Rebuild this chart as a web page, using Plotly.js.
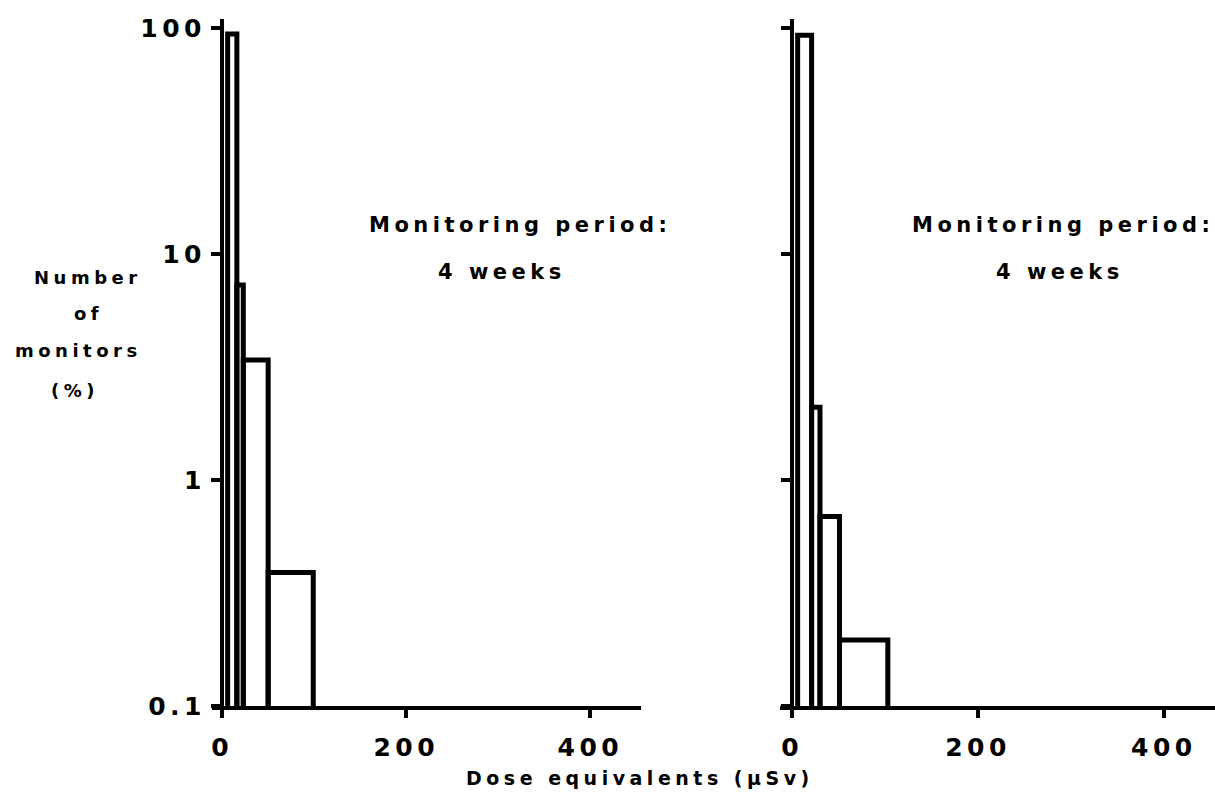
<!DOCTYPE html>
<html>
<head>
<meta charset="utf-8">
<script src="https://cdn.plot.ly/plotly-3.0.1.min.js"></script>
<style>
  html, body { margin: 0; padding: 0; background: #fff; }
  #chart { width: 1215px; height: 797px; }
  svg text { letter-spacing: 4.5px; }
</style>
</head>
<body>
<div id="chart"></div>
<script>
// Bin edges (µSv) and percentages
const leftEdges = [6, 16, 23, 50, 99];
const leftValues = [94, 7.3, 3.4, 0.39];
const rightEdges = [6, 21, 30, 51, 103];
const rightValues = [93, 2.1, 0.69, 0.196];

const yTickVals = [0.1, 1, 10, 100];
const yTickText = ['0.1', '1', '10', '100'];
const xTickVals = [0, 200, 400];
const xTickText = ['0', '200', '400'];

function centers(e) { return e.slice(0, -1).map((v, i) => (v + e[i + 1]) / 2); }
function widths(e) { return e.slice(0, -1).map((v, i) => e[i + 1] - v); }

const FONT = '"DejaVu Sans", sans-serif';
const W = 1215, H = 797;
const px = v => v / W;
const py = v => 1 - v / H;

function barTrace(edges, vals, xa, ya) {
  return {
    type: 'bar', x: centers(edges), y: vals, width: widths(edges),
    xaxis: xa, yaxis: ya,
    marker: { color: 'rgba(255,255,255,0)', line: { color: '#000', width: 5 } },
    hoverinfo: 'skip', showlegend: false
  };
}

const data = [
  barTrace(leftEdges, leftValues, 'x', 'y'),
  barTrace(rightEdges, rightValues, 'x2', 'y2')
];

const yDomain = [(H - 706) / H, (H - 19) / H];
const commonX = {
  range: [-11, 455], tickvals: xTickVals, ticktext: xTickText,
  showline: true, linewidth: 4, linecolor: '#000',
  ticks: 'outside', ticklen: 8, tickwidth: 4, tickcolor: '#000',
  showgrid: false, zeroline: false, ticklabelstandoff: 8,
  tickfont: { family: FONT, size: 25, color: '#000', weight: 'bold' }
};
const commonY = {
  type: 'log', range: [-1, 2.04], domain: yDomain,
  tickvals: yTickVals, ticktext: yTickText,
  showline: true, linewidth: 4, linecolor: '#000',
  ticks: 'outside', ticklen: 9, tickwidth: 4, tickcolor: '#000',
  showgrid: false, zeroline: false, anchor: 'free',
  tickfont: { family: FONT, size: 25, color: '#000', weight: 'bold' }
};

function ann(text, x, y, size) {
  return {
    text: text, xref: 'paper', yref: 'paper', x: px(x), y: py(y),
    xanchor: 'center', yanchor: 'middle', showarrow: false,
    font: { family: FONT, size: size, color: '#000', weight: 'bold' }
  };
}

const layout = {
  width: W, height: H,
  margin: { l: 0, r: 0, t: 0, b: 0 },
  paper_bgcolor: '#fff', plot_bgcolor: 'rgba(0,0,0,0)',
  showlegend: false,
  xaxis: Object.assign({}, commonX, { domain: [px(212), px(641)], anchor: 'y' }),
  xaxis2: Object.assign({}, commonX, { domain: [px(780), 1], anchor: 'y2', range: [-13, 455] }),
  yaxis: Object.assign({}, commonY, { position: px(222) }),
  yaxis2: Object.assign({}, commonY, { position: px(792), showticklabels: false }),
  annotations: [
    ann('Monitoring period:', 520, 225, 21),
    ann('4 weeks', 502, 272, 21),
    ann('Monitoring period:', 1063, 225, 21),
    ann('4 weeks', 1060, 272, 21),
    ann('Number', 88, 277, 18),
    ann('of', 88, 313, 18),
    ann('monitors', 78, 350, 18),
    ann('(%)', 75, 390, 18),
    ann('Dose equivalents (µSv)', 640, 778, 19)
  ]
};

Plotly.newPlot('chart', data, layout, { staticPlot: true, displayModeBar: false });
</script>
</body>
</html>
